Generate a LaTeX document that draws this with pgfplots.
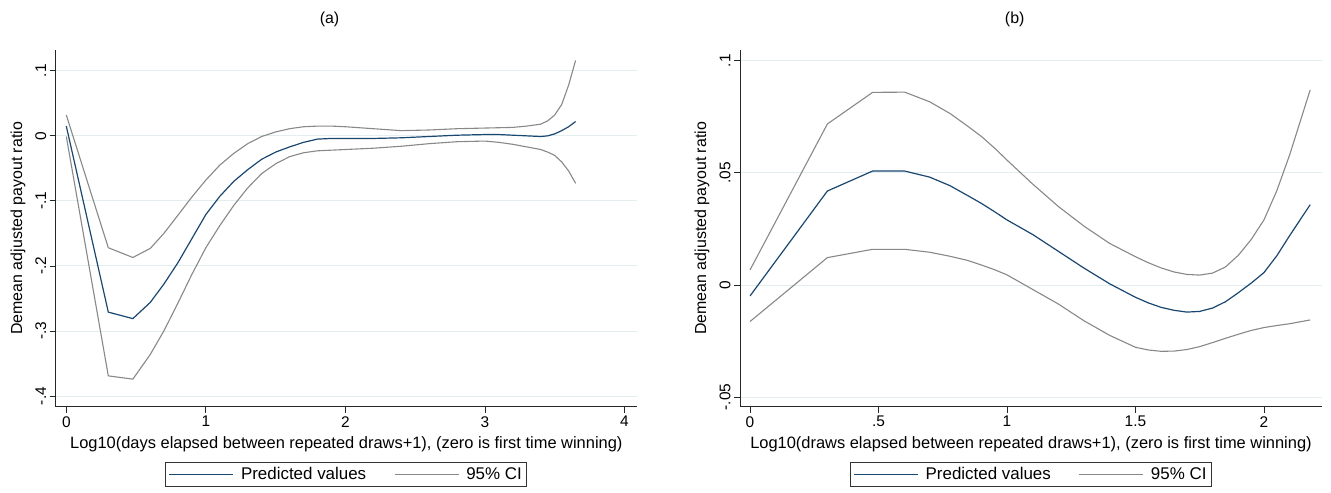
\documentclass[border=0pt]{standalone}
\usepackage{pgfplots}
\pgfplotsset{compat=1.18}
\usepackage{pgfplotstable}
\usepackage{fontspec}
\setmainfont{Liberation Sans}
\definecolor{statablue}{HTML}{1A476F}
\definecolor{cigray}{HTML}{888888}
\definecolor{gridc}{HTML}{E3EEF0}
\newcommand{\sfont}{\fontsize{16}{19}\selectfont}
\newcommand{\xfont}{\fontsize{16.5}{19}\selectfont}
\newcommand{\tfont}{\fontsize{15.5}{18}\selectfont}
\newcommand{\lfont}{\fontsize{17}{20}\selectfont}

\pgfplotstableread{
x      pred    up      lo
0      0.015   0.032  -0.001
0.301 -0.271  -0.172  -0.369
0.477 -0.281  -0.187  -0.374
0.602 -0.256  -0.173  -0.336
0.699 -0.228  -0.150  -0.300
0.8   -0.195  -0.122  -0.257
0.9   -0.158  -0.094  -0.213
1.0   -0.121  -0.068  -0.172
1.1   -0.093  -0.045  -0.138
1.2   -0.070  -0.027  -0.107
1.3   -0.052  -0.012  -0.080
1.4   -0.036  -0.001  -0.058
1.5   -0.025   0.006  -0.043
1.6   -0.017   0.011  -0.032
1.7   -0.010   0.014  -0.026
1.8   -0.005   0.015  -0.023
1.9   -0.004   0.015  -0.022
2.0   -0.004   0.014  -0.021
2.2   -0.004   0.011  -0.019
2.4   -0.003   0.008  -0.016
2.6   -0.001   0.009  -0.012
2.8    0.001   0.011  -0.009
3.0    0.002   0.012  -0.008
3.1    0.002   0.0125 -0.010
3.2    0.001   0.013  -0.013
3.3    0.000   0.015  -0.017
3.4   -0.001   0.018  -0.021
3.45   0.000   0.023  -0.025
3.5    0.003   0.032  -0.030
3.55   0.008   0.048  -0.040
3.6    0.014   0.078  -0.054
3.65   0.022   0.116  -0.073
}\tblA

\pgfplotstableread{
x      pred     up       lo
0     -0.0049   0.0067  -0.0163
0.301  0.0419   0.0718   0.0122
0.477  0.0508   0.0859   0.0159
0.602  0.0508   0.0860   0.0159
0.699  0.0481   0.0817   0.0146
0.778  0.0443   0.0765   0.0128
0.845  0.0400   0.0710   0.0110
0.903  0.0362   0.0660   0.0088
0.954  0.0325   0.0608   0.0067
1.0    0.0290   0.0557   0.0045
1.1    0.0225   0.0450  -0.0020
1.2    0.0150   0.0350  -0.0085
1.3    0.0075   0.0262  -0.0160
1.4    0.0005   0.0185  -0.0225
1.5   -0.0055   0.0126  -0.0278
1.55  -0.0080   0.0099  -0.0290
1.6   -0.0100   0.0076  -0.0296
1.65  -0.0113   0.0058  -0.0295
1.7   -0.0121   0.0047  -0.0288
1.75  -0.0118   0.0044  -0.0275
1.8   -0.0103   0.0053  -0.0257
1.85  -0.0075   0.0080  -0.0238
1.9   -0.0035   0.0132  -0.0220
1.95   0.0008   0.0202  -0.0203
2.0    0.0055   0.0290  -0.0190
2.05   0.0130   0.0420  -0.0181
2.1    0.0220   0.0580  -0.0173
2.18   0.0358   0.0870  -0.0156
}\tblB

\pgfplotsset{
  stata/.style={
    scale only axis,
    height=356.7bp,
    axis lines*=left,
    axis line style={-, black!85, line width=0.8bp},
    tick align=outside,
    tick pos=left,
    major tick length=6bp,
    tick style={black!85, line width=0.8bp},
    ymajorgrids,
    grid style={gridc, line width=0.9bp},
    font=\sfont,
    tick label style={font=\tfont},
    label style={font=\sfont},
    yticklabel style={rotate=90, anchor=south},
    ylabel={Demean adjusted payout ratio},
    xlabel style={at={(axis description cs:0.5,0)}, anchor=base, yshift=-41.3bp, font=\xfont},
    title style={anchor=center, yshift=25bp, font=\sfont},
    legend columns=2,
    legend style={at={(0.5,0)}, anchor=north, yshift=-55.3bp, draw=black!80, line width=0.8bp,
      font=\lfont, inner xsep=3bp, inner ysep=3bp,
      /tikz/every odd column/.append style={column sep=5bp},
      /tikz/every even column/.append style={column sep=26bp}},
    legend image code/.code={\draw[#1] (0bp,0bp) -- (64bp,0bp);},
  }
}

\begin{document}
\begin{tikzpicture}
\path[use as bounding box] (0,0) rectangle (1331bp,493bp);

\begin{axis}[stata,
  at={(55.7bp,86.3bp)}, anchor=south west,
  width=581.3bp,
  xmin=-0.076, xmax=4.09,
  ymin=-0.4164, ymax=0.132,
  xtick={0,1,2,3,4}, xticklabels={0,1,2,3,4},
  ytick={-0.4,-0.3,-0.2,-0.1,0,0.1}, yticklabels={-.4,-.3,-.2,-.1,0,.1},
  ylabel style={at={(axis description cs:-0.0649,0.5)}, anchor=center},
  xlabel={Log10(days elapsed between repeated draws+1), (zero is first time winning)},
  title={(a)}, title style={at={(0.471,1)}},
]
\addplot[statablue, line width=1.2bp] table[x=x, y=pred] {\tblA};
\addlegendentry{Predicted values}
\addplot[cigray, line width=1.1bp] table[x=x, y=up] {\tblA};
\addlegendentry{95\% CI}
\addplot[cigray, line width=1.1bp, forget plot] table[x=x, y=lo] {\tblA};
\end{axis}

\begin{axis}[stata,
  at={(740bp,86.3bp)}, anchor=south west,
  width=582bp,
  xmin=-0.039, xmax=2.226,
  ymin=-0.0543, ymax=0.1048,
  xtick={0,0.5,1,1.5,2}, xticklabels={0,.5,1,1.5,2},
  ytick={-0.05,0,0.05,0.1}, yticklabels={-.05,0,.05,.1},
  ylabel style={at={(axis description cs:-0.0653,0.5)}, anchor=center},
  xlabel={Log10(draws elapsed between repeated draws+1), (zero is first time winning)},
  title={(b)}, title style={at={(0.472,1)}},
]
\addplot[statablue, line width=1.2bp] table[x=x, y=pred] {\tblB};
\addlegendentry{Predicted values}
\addplot[cigray, line width=1.1bp] table[x=x, y=up] {\tblB};
\addlegendentry{95\% CI}
\addplot[cigray, line width=1.1bp, forget plot] table[x=x, y=lo] {\tblB};
\end{axis}
\end{tikzpicture}
\end{document}
